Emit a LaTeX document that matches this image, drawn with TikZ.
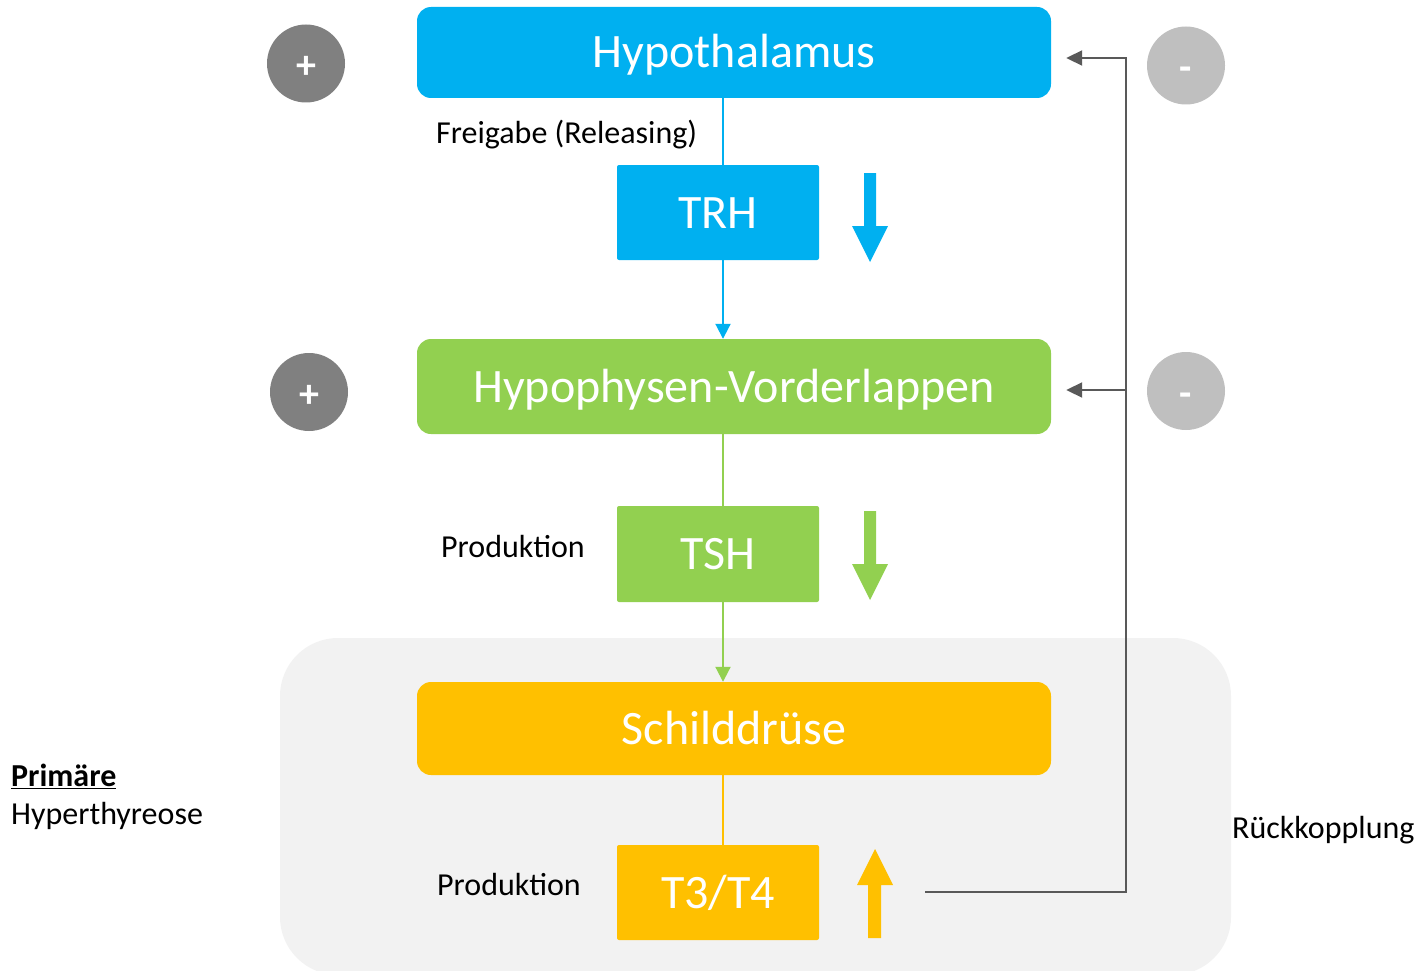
\documentclass[tikz,border=0pt]{standalone}
\usepackage{fontspec}
\setmainfont{Carlito}
\usetikzlibrary{arrows.meta}
\pgfdeclarelayer{back}
\pgfdeclarelayer{mid}
\pgfsetlayers{back,mid,main}
\definecolor{cblue}{HTML}{00B0F0}
\definecolor{cgreen}{HTML}{92D050}
\definecolor{cyellow}{HTML}{FFC000}
\definecolor{cdark}{HTML}{808080}
\definecolor{clight}{HTML}{BFBFBF}
\definecolor{cline}{HTML}{595959}
\definecolor{cregion}{HTML}{F2F2F2}
\tikzset{
  organ/.style={rounded corners=14pt, minimum width=634pt, inner sep=0pt, text=white, text height=31pt, text depth=0pt, font=\fontsize{48}{58}\selectfont},
  hormone/.style={rounded corners=2pt, minimum width=202pt, inner sep=0pt, text=white, text height=31pt, text depth=0pt, font=\fontsize{48}{58}\selectfont},
  sign/.style={circle, minimum size=78pt, inner sep=0pt, text=white, text height=30pt, text depth=0pt, font=\bfseries\fontsize{40}{48}\selectfont},
  lbl/.style={inner sep=0pt, text height=20.6pt, text depth=0pt, font=\fontsize{32}{38}\selectfont, anchor=west},
  flow/.style={line width=2pt, -{Triangle[length=15pt,width=15pt]}},
  fb/.style={line width=2pt, draw=cline, -{Triangle[length=16pt,width=15pt]}},
}
\begin{document}
\begin{tikzpicture}[x=1pt,y=-1pt]
\useasboundingbox (0,0) rectangle (1421,971);
\begin{pgfonlayer}{back}
\fill[cregion, rounded corners=58pt] (280,638) rectangle (1231,975);
\end{pgfonlayer}
% organs
\node[organ, fill=cblue, minimum height=91pt] (hyp) at (734,52.5) {Hypothalamus};
\node[organ, fill=cgreen, minimum height=95pt] (hvl) at (734,386.5) {Hypophysen-Vorderlappen};
\node[organ, fill=cyellow, minimum height=93pt] (sd) at (734,728.5) {Schilddrüse};
% hormones
\node[hormone, fill=cblue, minimum height=95pt] (trh) at (718,212.5) {TRH};
\node[hormone, fill=cgreen, minimum height=96pt] (tsh) at (718,554) {TSH};
\node[hormone, fill=cyellow, minimum height=95pt] (t34) at (718,892.5) {T3/T4};
% signs
\node[sign, fill=cdark] (p1) at (306,63.5) {+};
\node[sign, fill=cdark] (p2) at (309,392) {+};
\node[sign, fill=clight] (m1) at (1186,65.5) {-};
\node[sign, fill=clight] (m2) at (1186,391) {-};
% labels
\node[lbl] (frei) at (436,133.5) {Freigabe (Releasing)};
\node[lbl] (prod1) at (441,547) {Produktion};
\node[lbl] (prod2) at (437,885.5) {Produktion};
\node[lbl] (rk) at (1232,828) {Rückkopplung};
\node[lbl] (prim) at (11,776.5) {\underline{\textbf{Primäre}}};
\node[lbl] (hyper) at (11,814.5) {Hyperthyreose};
% block arrows
\fill[cblue] (864,173) -- (876,173) -- (876,226) -- (888,226) -- (870,262) -- (852,226) -- (864,226) -- cycle;
\fill[cgreen] (864,511) -- (876,511) -- (876,564) -- (888,564) -- (870,600) -- (852,564) -- (864,564) -- cycle;
\fill[cyellow] (868,938) -- (881,938) -- (881,885) -- (893,885) -- (875,849) -- (857,885) -- (868,885) -- cycle;
% connectors
\begin{pgfonlayer}{mid}
\draw[flow, cblue] ([xshift=-11pt]hyp.south) -- ([xshift=-11pt]hvl.north);
\draw[flow, cgreen] ([xshift=-11pt]hvl.south) -- ([xshift=-11pt]sd.north);
\draw[line width=2pt, cyellow] ([xshift=-11pt]sd.south) -- ([xshift=5pt]t34.north);
\coordinate (fbs) at (925,892);
\coordinate (fbc) at (1126,892);
\coordinate (t1) at ([xshift=15pt,yshift=-5.5pt]hyp.east);
\coordinate (t2) at ([xshift=15pt,yshift=-3.5pt]hvl.east);
\draw[fb] (fbs) -- (fbc) |- (t1);
\draw[fb] (fbc |- t2) -- (t2);
\end{pgfonlayer}
\end{tikzpicture}
\end{document}
